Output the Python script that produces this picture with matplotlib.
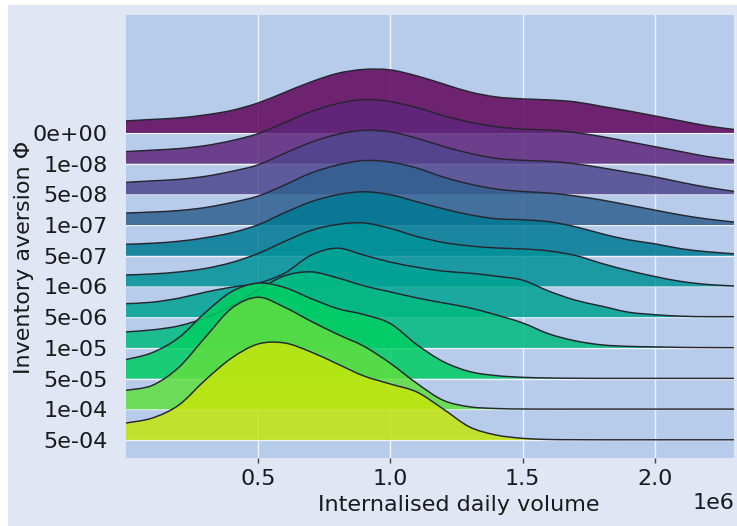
import matplotlib.pyplot as plt
from matplotlib.path import Path
from matplotlib.patches import PathPatch, Rectangle
import numpy as np

# inventory aversion levels (top to bottom) and KDE heights
labels = ["0e+00", "1e-08", "5e-08", "1e-07", "5e-07", "1e-06",
          "5e-06", "1e-05", "5e-05", "1e-04", "5e-04"]

volume = np.array([0.0, 0.1, 0.2, 0.3, 0.4, 0.5, 0.6, 0.7, 0.8, 0.9, 1.0, 1.1,
                   1.2, 1.3, 1.4, 1.5, 1.6, 1.7, 1.8, 1.9, 2.0, 2.1, 2.2, 2.3]) * 1e6

h_0e00 = [12, 13.5, 15, 18, 22.5, 30, 40.5, 51, 59.5, 63.5, 63, 57, 49, 41, 36, 34, 33, 31, 26.5, 22, 17, 12, 7, 3.5]
h_1e08 = [12, 13.5, 15, 18, 23, 30, 41, 52, 60, 64, 62, 56, 48, 41.5, 37, 34.5, 33.5, 31, 27, 22, 17, 12, 7, 3.5]
h_5e08 = [12, 13.5, 15, 18, 23, 29.5, 41, 52, 60, 64, 62.5, 56, 48, 41, 36, 34, 33, 30.5, 26.5, 22, 17.5, 12, 7, 3]
h_1e07 = [12, 13, 14.5, 17.5, 22.5, 29, 40, 52, 60, 64.5, 63, 57, 48, 41, 36, 33.5, 32, 29, 25, 20, 15, 10, 6, 3]
h_5e07 = [11.5, 12.5, 14.5, 18, 23, 31, 43, 54, 61, 64, 61, 54, 47, 41, 37, 36, 34, 29, 22, 16, 12, 7, 4, 2]
h_1e06 = [11.5, 12.5, 14.5, 18, 24, 33, 45, 56, 62, 63.5, 58, 50, 44, 40.5, 38.5, 37.5, 35.5, 31, 23, 16, 10, 5, 2, 0.5]
h_5e06 = [13.5, 15, 19, 25, 30, 34, 44, 62, 69, 62, 55, 50, 46, 44, 41, 37, 26, 17, 11, 5, 2.5, 1, 0.5, 0.5]
h_1e05 = [16, 18, 22, 30, 42, 58, 72, 76, 70, 62, 56, 50, 45, 40, 33, 25, 14, 7, 3, 1.5, 1, 0.5, 0.3, 0.2]
h_5e05 = [19, 26, 41, 66, 87, 95.5, 91, 80, 70, 64, 55, 34, 17, 7, 3, 1.3, 0.6, 0.3, 0.2, 0.2, 0.2, 0.2, 0.2, 0.2]
h_1e04 = [19, 24, 42, 72, 101, 112, 102, 88, 75, 63, 46, 26, 9, 2.5, 0.8, 0.3, 0.2, 0.2, 0.2, 0.2, 0.2, 0.2, 0.2, 0.2]
h_5e04 = [17, 22, 35, 60, 82, 96, 97, 88, 76, 64, 56, 48, 31, 13, 5, 1.7, 0.5, 0.3, 0.2, 0.2, 0.2, 0.2, 0.2, 0.2]

heights = [h_0e00, h_1e08, h_5e08, h_1e07, h_5e07, h_1e06,
           h_5e06, h_1e05, h_5e05, h_1e04, h_5e04]

colors = ["#60055b", "#5e267a", "#50468e", "#306091", "#007a93", "#009298",
          "#00a492", "#00ba7e", "#00cd62", "#60de41", "#c5e60c"]

scale = 1 / 30.7   # ridge height relative to row spacing


def smooth(x, y):
    # Catmull-Rom through the read points, as cubic bezier segments
    px = np.concatenate([[x[0]], x, [x[-1]]])
    py = np.concatenate([[y[0]], y, [y[-1]]])
    verts = [(x[0], y[0])]
    codes = [Path.MOVETO]
    for i in range(1, len(px) - 2):
        c1 = (px[i] + (px[i + 1] - px[i - 1]) / 6, py[i] + (py[i + 1] - py[i - 1]) / 6)
        c2 = (px[i + 1] - (px[i + 2] - px[i]) / 6, py[i + 1] - (py[i + 2] - py[i]) / 6)
        verts += [c1, c2, (px[i + 1], py[i + 1])]
        codes += [Path.CURVE4] * 3
    return verts, codes


fig = plt.figure(figsize=(7.37, 5.26), dpi=100, facecolor="white")
fig.add_artist(Rectangle((8 / 737, 0), 729 / 737, 521 / 526, transform=fig.transFigure,
                         facecolor="#e0e6f4", edgecolor="none", zorder=-1))
ax = fig.add_axes([126 / 737, 68 / 526, 608 / 737, 443 / 526])
ax.set_facecolor("#b7cbea")

n = len(labels)
bases = [n - 1 - k for k in range(n)]
for k, (h, c) in enumerate(zip(heights, colors)):
    base = bases[k]
    y = base + np.array(h) * scale
    verts, codes = smooth(volume, y)
    fill_verts = verts + [(volume[-1], base), (volume[0], base), (volume[0], y[0])]
    fill_codes = codes + [Path.LINETO, Path.LINETO, Path.CLOSEPOLY]
    ax.add_patch(PathPatch(Path(fill_verts, fill_codes), facecolor=c, edgecolor="none",
                           alpha=0.85, zorder=2 + k))
    ax.add_patch(PathPatch(Path(verts, codes), facecolor="none", edgecolor="#262630",
                           lw=1.05, zorder=2 + k + 0.5))

ax.set_xlim(0, 2.3e6)
ax.set_ylim(-0.586, n - 1 + 3.84)
ax.set_xticks([0.5e6, 1.0e6, 1.5e6, 2.0e6])
ax.set_yticks(bases)
ax.set_yticklabels(labels)
ax.grid(True, color="white", lw=1.0, alpha=0.8, zorder=1)
ax.set_axisbelow(True)
for s in ax.spines.values():
    s.set_visible(False)

ax.tick_params(axis="x", length=3.6, width=1, color="#444444", pad=4, labelsize=16, labelcolor="#1a1a1a")
ax.tick_params(axis="y", length=0, pad=13, labelsize=16, labelcolor="#1a1a1a")
ax.xaxis.get_offset_text().set_fontsize(16)
ax.xaxis.get_offset_text().set_color("#1a1a1a")

ax.set_xlabel("Internalised daily volume", fontsize=16, color="#1a1a1a")
ax.set_ylabel("Inventory aversion Φ", fontsize=16, color="#1a1a1a")
ax.xaxis.set_label_coords(0.547, -0.084)
ax.yaxis.set_label_coords(-0.151, 0.454)

plt.savefig("out.png", dpi=100)
